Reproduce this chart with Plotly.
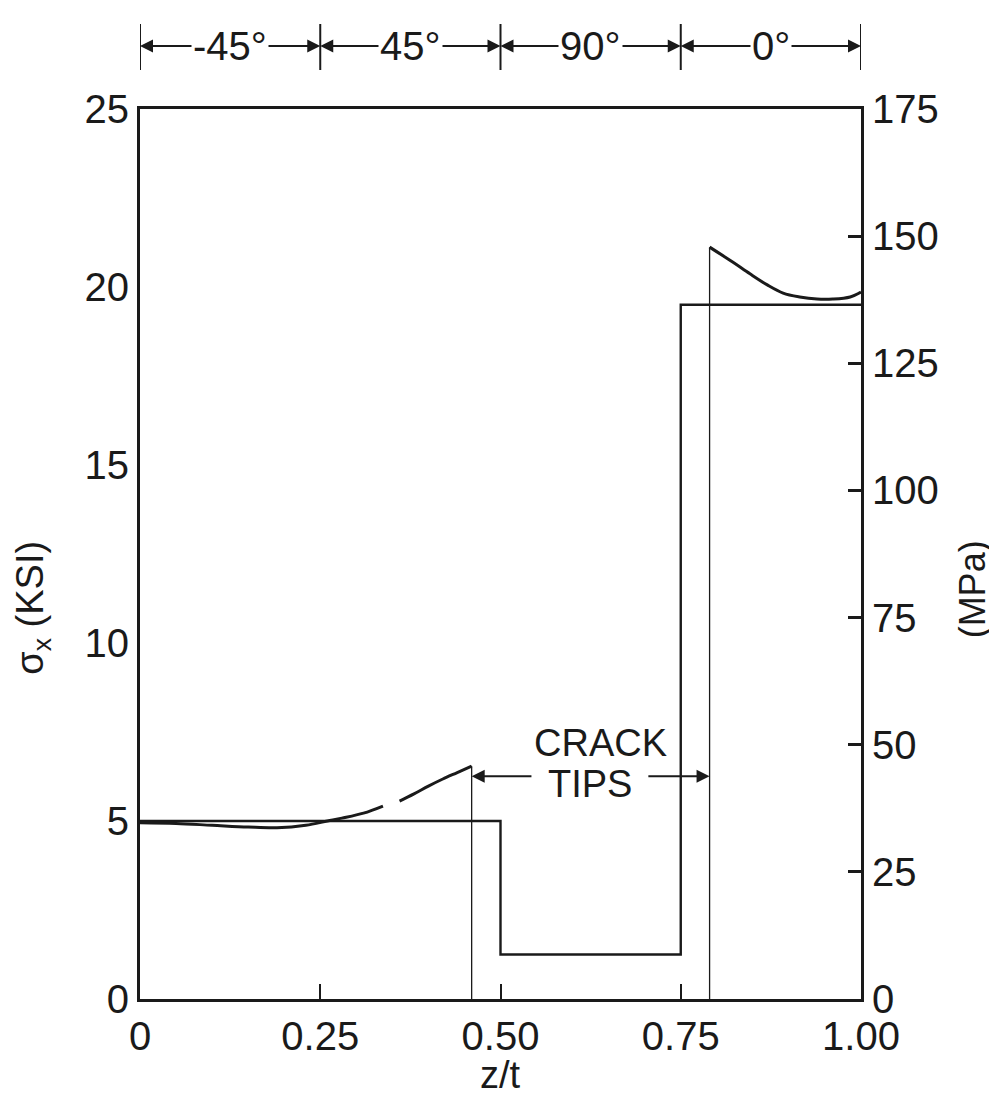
import plotly.graph_objects as go

# ply boundaries and the uncracked stress in each region (ksi)
ply_z = [0.0, 0.5, 0.75, 1.0]
ply_sigma = [5.0, 1.25, 19.5, 19.5]

# cracked laminate stress, first part (0 to first crack tip) - gap in the middle
crack1_z = [0.0, 0.05, 0.10, 0.15, 0.19, 0.23, 0.26, 0.28, 0.31, 0.337, None, 0.36, 0.38, 0.40, 0.42, 0.44, 0.46]
crack1_sigma = [4.95, 4.93, 4.88, 4.83, 4.81, 4.88, 5.0, 5.08, 5.22, 5.42, None, 5.56, 5.76, 5.98, 6.18, 6.36, 6.54]

# cracked laminate stress, 0 deg ply
crack2_z = [0.79, 0.822, 0.846, 0.870, 0.892, 0.915, 0.939, 0.961, 0.985, 1.0]
crack2_sigma = [21.12, 20.7, 20.37, 20.06, 19.83, 19.72, 19.66, 19.66, 19.72, 19.86]

crack_tips_z = [0.46, 0.79]
crack_tips_top = [6.54, 21.12]

layup_bounds = [0.0, 0.25, 0.5, 0.75, 1.0]
layup_labels = ["-45°", "45°", "90°", "0°"]

x_ticks = [0, 0.25, 0.5, 0.75, 1.0]
x_ticktext = ["0", "0.25", "0.50", "0.75", "1.00"]
ksi_ticks = [0, 5, 10, 15, 20, 25]
mpa_ticks = [0, 25, 50, 75, 100, 125, 150, 175]

FONT = "Liberation Sans"
INK = "#1a1a1a"

fig = go.Figure()

fig.add_trace(go.Scatter(x=ply_z, y=ply_sigma, mode="lines", line_shape="hv",
                         line=dict(color=INK, width=2.4), showlegend=False))
fig.add_trace(go.Scatter(x=crack1_z, y=crack1_sigma, mode="lines", line_shape="spline",
                         line=dict(color=INK, width=3), showlegend=False))
fig.add_trace(go.Scatter(x=crack2_z, y=crack2_sigma, mode="lines", line_shape="spline",
                         line=dict(color=INK, width=3), showlegend=False))
for z, top in zip(crack_tips_z, crack_tips_top):
    fig.add_trace(go.Scatter(x=[z, z], y=[0, top], mode="lines",
                             line=dict(color=INK, width=1.3), showlegend=False))
# dummy trace so the MPa axis gets drawn
fig.add_trace(go.Scatter(x=[0], y=[0], yaxis="y2", mode="markers",
                         marker=dict(opacity=0), showlegend=False, hoverinfo="skip"))

# layup dimension line on top
y_dim = (999 - 46) / 890
for b in layup_bounds:
    fig.add_shape(type="line", xref="x", yref="paper", x0=b, x1=b,
                  y0=(999 - 70) / 890, y1=(999 - 24) / 890,
                  line=dict(color=INK, width=2))
for i, lab in enumerate(layup_labels):
    a, b = layup_bounds[i], layup_bounds[i + 1]
    mid = (a + b) / 2
    for end in (a, b):
        fig.add_annotation(x=end, y=y_dim, xref="x", yref="paper",
                           ax=mid, ay=0, axref="x", ayref="pixel",
                           showarrow=True, arrowhead=2, arrowsize=1.3,
                           arrowwidth=2, arrowcolor=INK, text="")
    fig.add_annotation(x=mid, y=y_dim, xref="x", yref="paper", text=lab,
                       showarrow=False, bgcolor="white", yanchor="middle",
                       font=dict(family=FONT, size=40, color=INK))

# crack tips label
fig.add_annotation(x=0.639, y=7.2, text="CRACK", showarrow=False,
                   font=dict(family=FONT, size=38, color=INK))
fig.add_annotation(x=0.624, y=6.05, text="TIPS", showarrow=False,
                   font=dict(family=FONT, size=38, color=INK))
fig.add_annotation(x=0.46, y=6.26, ax=0.545, ay=6.26, axref="x", ayref="y",
                   showarrow=True, arrowhead=2, arrowsize=1.3, arrowwidth=2,
                   arrowcolor=INK, text="")
fig.add_annotation(x=0.79, y=6.26, ax=0.703, ay=6.26, axref="x", ayref="y",
                   showarrow=True, arrowhead=2, arrowsize=1.3, arrowwidth=2,
                   arrowcolor=INK, text="")

# axis titles
fig.add_annotation(x=-0.148, y=0.44, xref="paper", yref="paper",
                   xanchor="center", yanchor="middle",
                   text="σ<sub>x</sub> (KSI)", textangle=-90, showarrow=False,
                   font=dict(family=FONT, size=38, color=INK))
fig.add_annotation(x=1.155, y=0.46, xref="paper", yref="paper",
                   xanchor="center", yanchor="middle",
                   text="(MPa)", textangle=-90, showarrow=False,
                   font=dict(family=FONT, size=36, color=INK))
fig.add_annotation(x=0.5, y=-0.085, xref="paper", yref="paper",
                   xanchor="center", yanchor="middle",
                   text="z/t", showarrow=False,
                   font=dict(family=FONT, size=38, color=INK))

# page body has an 8px margin, so the figure is shrunk and shifted to compensate
fig.update_layout(
    width=989, height=1101,
    margin=dict(l=132, r=136, t=101, b=110, autoexpand=False),
    plot_bgcolor="white", paper_bgcolor="white",
    font=dict(family=FONT, size=40, color=INK),
    xaxis=dict(range=[0, 1], tickvals=x_ticks, ticktext=x_ticktext,
               ticks="inside", ticklen=15, tickwidth=2, tickcolor=INK,
               showline=True, linewidth=3, linecolor=INK, mirror=True,
               showgrid=False, zeroline=False, automargin=False),
    yaxis=dict(range=[0, 25], tickvals=ksi_ticks, ticks="",
               showline=True, linewidth=3, linecolor=INK, mirror=True,
               showgrid=False, zeroline=False, automargin=False),
    yaxis2=dict(range=[0, 175], tickvals=mpa_ticks, overlaying="y", side="right",
                ticks="inside", ticklen=13, tickwidth=3, tickcolor=INK,
                showline=True, linewidth=3, linecolor=INK,
                showgrid=False, zeroline=False, automargin=False),
)

fig.write_html("out.html")
